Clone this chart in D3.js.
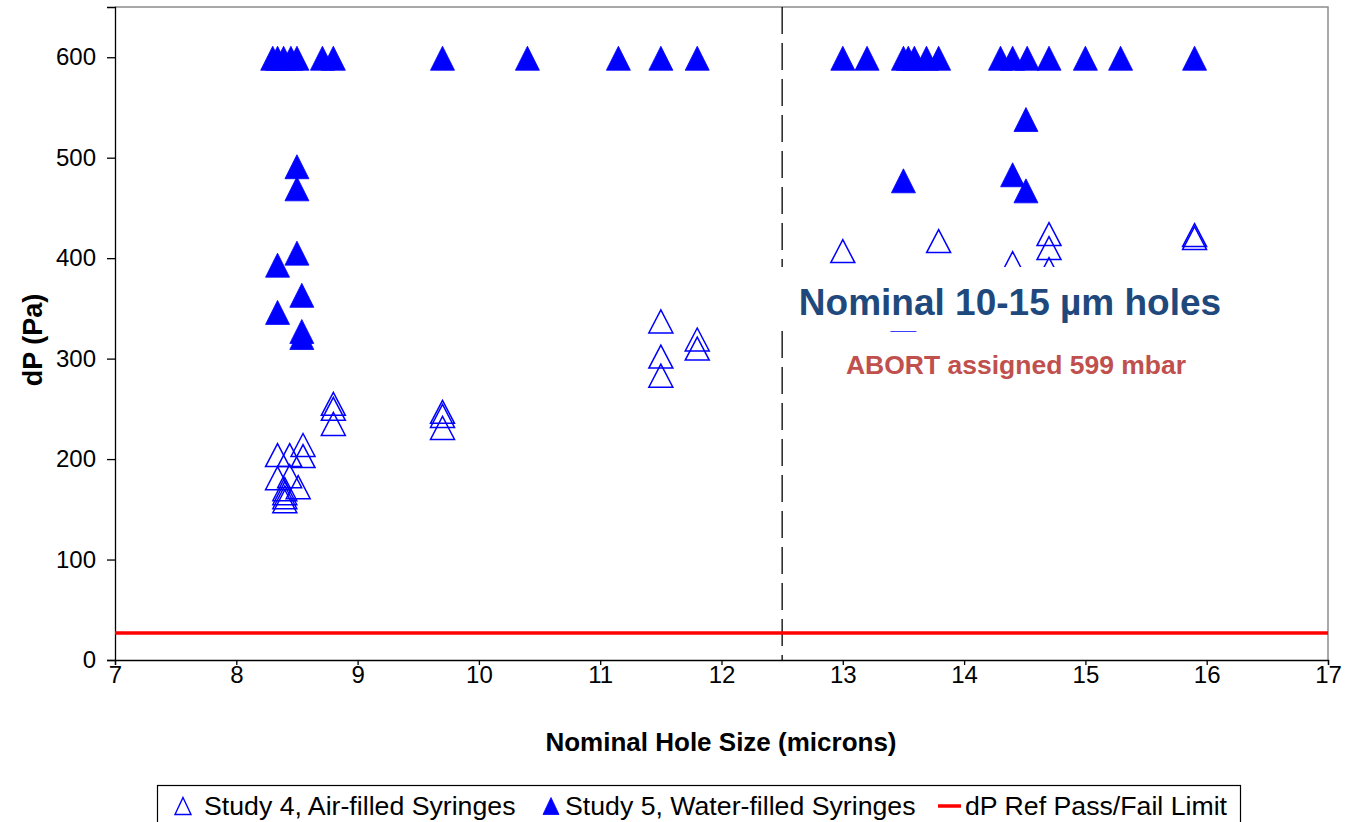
<!DOCTYPE html>
<html>
<head>
<meta charset="utf-8">
<script src="https://cdn.jsdelivr.net/npm/d3@7"></script>
<style>
  html, body { margin: 0; padding: 0; background: #fff; }
  svg { display: block; font-family: "Liberation Sans", Arial, sans-serif; }
</style>
</head>
<body>
<svg id="chart" width="1348" height="822"></svg>
<script>
// ---- Data ----
const study4X = [8.34, 8.34, 8.44, 8.44, 8.55, 8.55, 8.51, 8.40, 8.40, 8.40, 8.40,
                 8.80, 8.80, 8.80, 9.70, 9.70, 9.70, 11.50, 11.50, 11.50, 11.80, 11.80,
                 13.00, 13.50, 13.79, 14.40, 14.70, 14.70, 14.70, 15.90, 15.90];
const study4Y = [204, 181, 204, 183, 214, 203, 172, 170, 166, 162, 158,
                 255, 250, 235, 247, 243, 231, 337, 302, 283, 319, 310,
                 407, 339, 417, 395, 424, 410, 389, 423, 420];

const study5X = [8.30, 8.34, 8.39, 8.45, 8.50, 8.71, 8.80, 9.70, 10.40, 11.15, 11.50, 11.80,
                 13.00, 13.20, 13.50, 13.54, 13.59, 13.69, 13.79, 14.30, 14.40, 14.52, 14.70,
                 15.00, 15.29, 15.90,
                 8.50, 8.50, 8.50, 8.34, 8.34, 8.54, 8.54, 8.54, 13.50, 14.40, 14.51, 14.51];
const study5Y = [599, 599, 599, 599, 599, 599, 599, 599, 599, 599, 599, 599,
                 599, 599, 599, 599, 599, 599, 599, 599, 599, 599, 599,
                 599, 599, 599,
                 491, 469, 405, 393, 346, 363, 327, 321, 477, 483, 467, 538];

const refLimit = 27;          // dP Ref Pass/Fail Limit (Pa)
const divider = 12.5;         // nominal hole size split
const xTicks = [7, 8, 9, 10, 11, 12, 13, 14, 15, 16, 17];
const yTicks = [0, 100, 200, 300, 400, 500, 600];
const xDomain = [7, 17];
const yDomain = [0, 650];

const legendLabels = ["Study 4, Air-filled Syringes", "Study 5, Water-filled Syringes", "dP Ref Pass/Fail Limit"];
const annotationMain = "Nominal 10-15 \u00B5m holes";
const annotationAbort = "ABORT assigned 599 mbar";

// ---- Layout ----
const svg = d3.select("#chart");
const L = 115, R = 1328, T = 7, B = 660;
const x = d3.scaleLinear().domain(xDomain).range([L, R]);
const y = d3.scaleLinear().domain(yDomain).range([B, T]);
const BLUE = "#0000FF";

function tri(w, h) {
  return `M0,${-h/2}L${w/2},${h/2}L${-w/2},${h/2}Z`;
}

// plot border (top & right gray)
svg.append("path")
  .attr("d", `M${L},${T}H${R}V${B}`)
  .attr("fill", "none").attr("stroke", "#8c8c8c").attr("stroke-width", 1.5);

// dashed divider
svg.append("line")
  .attr("x1", x(divider)).attr("x2", x(divider))
  .attr("y1", T).attr("y2", B)
  .attr("stroke", "#000").attr("stroke-width", 1.3)
  .attr("stroke-dasharray", "27,9");

// axes
const xAxis = d3.axisBottom(x).tickValues(xTicks).tickSize(5).tickFormat(d3.format("d"));
const yAxis = d3.axisLeft(y).tickValues(yTicks).tickSize(8).tickFormat(d3.format("d"));

const gx = svg.append("g").attr("transform", `translate(0,${B})`).call(xAxis);
const gy = svg.append("g").attr("transform", `translate(${L},0)`).call(yAxis);
[gx, gy].forEach(g => {
  g.select(".domain").attr("stroke", "#000").attr("stroke-width", 1.3);
  g.selectAll(".tick line").attr("stroke", "#000").attr("stroke-width", 1.3);
  g.selectAll(".tick text").attr("fill", "#000").attr("font-size", 24)
    .attr("font-family", "'Liberation Sans', Arial, sans-serif");
});
gx.selectAll(".tick text").attr("y", 0).attr("dy", 23);
gy.selectAll(".tick text").attr("x", -19);

// ref limit line
svg.append("line")
  .attr("x1", x(xDomain[0])).attr("x2", x(xDomain[1]))
  .attr("y1", y(refLimit)).attr("y2", y(refLimit))
  .attr("stroke", "#FF0000").attr("stroke-width", 3.5);

// Study 4 (hollow)
svg.append("g").selectAll("path")
  .data(study4X.map((v, i) => [v, study4Y[i]]))
  .join("path")
  .attr("d", tri(24, 23))
  .attr("transform", d => `translate(${x(d[0])},${y(d[1])})`)
  .attr("fill", "none").attr("stroke", BLUE).attr("stroke-width", 1.5);

// Study 5 (filled)
svg.append("g").selectAll("path")
  .data(study5X.map((v, i) => [v, study5Y[i]]))
  .join("path")
  .attr("d", tri(24, 24))
  .attr("transform", d => `translate(${x(d[0])},${y(d[1])})`)
  .attr("fill", BLUE).attr("stroke", BLUE).attr("stroke-width", 0.8);

// annotation box (white fill covers points behind)
svg.append("rect")
  .attr("x", 770).attr("y", 267).attr("width", 470).attr("height", 64)
  .attr("fill", "#fff");
svg.append("text")
  .attr("x", 1010).attr("y", 315)
  .attr("text-anchor", "middle")
  .attr("font-size", 37).attr("font-weight", "bold")
  .attr("fill", "#1F497D")
  .text(annotationMain);
svg.append("text")
  .attr("x", 1016).attr("y", 374)
  .attr("text-anchor", "middle")
  .attr("font-size", 26.5).attr("font-weight", "bold")
  .attr("fill", "#C0504D")
  .text(annotationAbort);

// axis titles
svg.append("text")
  .attr("x", 721).attr("y", 751)
  .attr("text-anchor", "middle")
  .attr("font-size", 26).attr("font-weight", "bold")
  .text("Nominal Hole Size (microns)");
svg.append("text")
  .attr("transform", `translate(42,340) rotate(-90)`)
  .attr("text-anchor", "middle")
  .attr("font-size", 27).attr("font-weight", "bold")
  .text("dP (Pa)");

// legend
const lg = svg.append("g");
lg.append("rect")
  .attr("x", 157.5).attr("y", 785.5).attr("width", 1083).attr("height", 50)
  .attr("fill", "#fff").attr("stroke", "#000").attr("stroke-width", 1.2);
const ly = 806;
lg.append("path").attr("d", tri(16, 17)).attr("transform", `translate(183,${ly})`)
  .attr("fill", "none").attr("stroke", BLUE).attr("stroke-width", 1.4);
lg.append("path").attr("d", tri(16, 17)).attr("transform", `translate(551,${ly})`)
  .attr("fill", BLUE).attr("stroke", BLUE).attr("stroke-width", 0.8);
lg.append("line").attr("x1", 938).attr("x2", 961).attr("y1", ly).attr("y2", ly)
  .attr("stroke", "#FF0000").attr("stroke-width", 3.5);
const legX = [204, 565, 965];
legendLabels.forEach((t, i) => {
  lg.append("text").attr("x", legX[i]).attr("y", ly + 9)
    .attr("font-size", 26.7).attr("fill", "#000").text(t);
});
</script>
</body>
</html>
